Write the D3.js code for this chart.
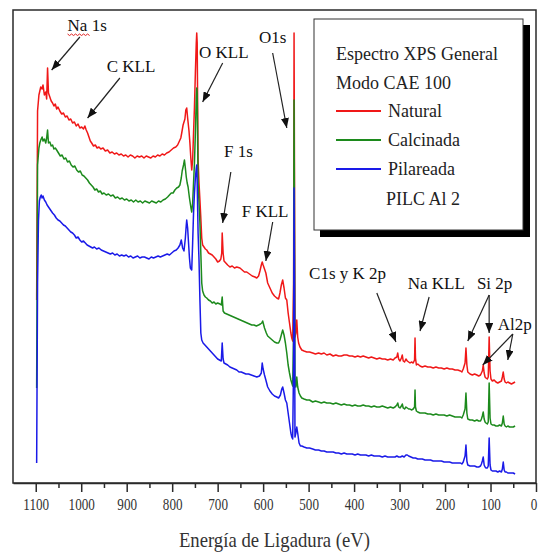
<!DOCTYPE html>
<html>
<head>
<meta charset="utf-8">
<script src="https://cdn.jsdelivr.net/npm/d3@7"></script>
<style>
  html, body { margin: 0; padding: 0; background: #fff; }
  svg { display: block; }
  svg text { font-family: "Liberation Serif", "Times New Roman", serif; }
</style>
</head>
<body>
<svg id="chart" width="538" height="553"></svg>
<script>
// XPS survey spectra: [binding energy (eV), intensity (a.u.)]
const natural = [
  [1098,183],[1096,372],[1093,388],[1091,392],[1089,396],[1086,394],[1084,398],[1081,388],[1078,391],[1076,384],
  [1074,415],[1072,390],[1069,386],[1066,382],[1063,380],[1060,377],[1057,379],[1054,374],[1051,376],[1047,372],
  [1043,369],[1039,370],[1035,366],[1031,367],[1027,363],[1023,364],[1019,360],[1015,361],[1011,357],[1007,359],
  [1003,355],[999,356],[995,354],[992,357],[989,353],[986,350],[983,346],[980,342],[977,340],[973,337],
  [969,338],[965,335],[961,336],[957,334],[952,335],[947,332],[942,333],[937,330],[932,331],[927,329],
  [922,330],[917,328],[912,329],[907,327],[902,328],[897,326],[892,328],[887,327],[882,325],[877,327],
  [872,326],[867,327],[862,325],[857,327],[852,326],[847,325],[842,327],[837,326],[832,328],[827,327],
  [822,329],[817,328],[812,330],[807,331],[802,333],[797,335],[792,336],[788,338],[784,342],[781,345],
  [779,350],[776,358],[772,364],[770,373],[768,375],[766,365],[763,352],[761,340],[759,325],[757,313],
  [755,323],[753,350],[751,376],[749,410],[747,440],[746,450],[745,440],[744,380],[743,323],[741,300],
  [739,283],[737,265],[735,245],[733,238],[730,236],[727,234],[724,233],[720,230],[716,229],[712,228],
  [708,226],[704,224],[700,221],[696,222],[693,224],[691,230],[690,250],[688,230],[686,222],[682,220],
  [678,218],[673,216],[668,217],[663,215],[658,216],[651,215],[646,213],[641,211],[636,211],[630,209],
  [624,207],[618,206],[614,205],[610,207],[607,212],[604,218],[602,221],[600,218],[597,214],[594,210],
  [590,200],[585,195],[580,190],[575,187],[570,185],[566,184],[563,190],[560,198],[557,203],[554,195],
  [551,185],[548,183],[545,170],[542,160],[539,150],[537,145],[535,142],[533,200],[532,450],[531,300],
  [530,146],[528,150],[526,163],[524,146],[522,140],[519,136],[515,133],[510,132],[504,131],[498,131],
  [491,130],[485,129],[478,130],[472,129],[466,130],[460,128],[453,129],[446,127],[440,128],[434,127],
  [428,127],[422,128],[416,128],[410,127],[404,127],[398,126],[392,127],[386,126],[380,127],[374,126],
  [368,125],[362,126],[356,125],[350,124],[344,125],[338,124],[332,124],[326,123],[320,124],[314,123],
  [310,125],[306,126],[304,130],[302,124],[299,122],[296,125],[294,128],[292,122],[289,121],[286,124],
  [283,122],[280,121],[277,120],[274,121],[270,120],[267,123],[266,145],[265,125],[263,118],[260,119],
  [255,117],[250,116],[244,117],[238,116],[232,116],[226,115],[220,116],[214,115],[208,115],[202,114],
  [196,115],[190,114],[184,114],[178,113],[172,113],[166,112],[163,111],[160,114],[156,120],[154,135],
  [152,118],[150,111],[145,109],[140,108],[135,109],[130,108],[126,107],[122,108],[120,110],[118,112],
  [116,118],[114,110],[112,106],[110,105],[107,104],[105,106],[103,146],[101,112],[99,104],[96,102],
  [92,103],[88,101],[84,100],[80,101],[76,102],[74,106],[72,111],[70,104],[68,101],[65,100],
  [62,101],[58,100],[54,99],[50,100],[46,101]
];

const calcinada = [
  [1098,95],[1096,318],[1093,335],[1091,340],[1089,343],[1086,346],[1084,342],[1081,344],[1078,340],[1076,345],
  [1074,353],[1072,340],[1069,341],[1066,337],[1063,338],[1060,334],[1057,335],[1054,333],[1050,330],[1046,327],
  [1042,328],[1038,324],[1034,325],[1030,321],[1026,322],[1022,318],[1018,316],[1014,317],[1010,313],[1006,311],
  [1002,312],[998,308],[994,307],[990,305],[986,303],[982,300],[978,298],[974,296],[970,293],[966,294],
  [962,291],[958,292],[954,289],[950,290],[945,288],[940,289],[935,287],[930,288],[925,285],[920,286],
  [915,284],[910,285],[905,283],[900,284],[895,282],[890,283],[885,281],[880,283],[875,281],[870,282],
  [865,280],[860,282],[855,281],[850,280],[845,282],[840,281],[835,280],[830,282],[825,281],[820,283],
  [815,284],[810,286],[806,288],[802,290],[798,290],[794,293],[790,295],[786,296],[783,298],[780,305],
  [778,312],[775,318],[773,323],[771,315],[769,306],[767,300],[765,296],[762,285],[759,276],[757,271],
  [755,280],[753,300],[751,320],[749,350],[747,385],[746,395],[745,390],[744,340],[743,300],[741,280],
  [739,260],[737,230],[735,200],[733,192],[730,188],[727,186],[724,185],[720,183],[716,182],[712,180],
  [708,181],[704,179],[700,180],[695,179],[692,178],[690,186],[688,172],[685,170],[680,169],[675,168],
  [670,167],[665,166],[660,165],[655,164],[650,163],[645,162],[640,161],[635,160],[630,159],[625,158],
  [620,158],[615,157],[610,158],[606,159],[603,160],[601,162],[597,155],[593,150],[590,147],[585,145],
  [580,143],[575,141],[570,140],[566,140],[563,143],[560,148],[557,153],[554,148],[551,140],[548,130],
  [545,118],[542,110],[539,103],[537,100],[535,97],[533,150],[532,383],[531,250],[530,100],[528,96],
  [526,106],[524,96],[521,90],[518,87],[515,85],[510,84],[504,83],[498,83],[491,81],[485,82],
  [478,81],[472,80],[466,81],[460,80],[453,80],[446,79],[440,80],[434,79],[428,78],[422,79],
  [416,78],[410,78],[404,77],[398,78],[392,77],[386,77],[380,78],[374,77],[368,77],[362,76],
  [356,77],[350,76],[344,76],[338,77],[332,76],[326,75],[320,76],[314,75],[310,76],[306,78],
  [304,80],[302,76],[299,75],[296,77],[294,79],[292,75],[289,74],[286,76],[283,75],[280,74],
  [277,74],[274,73],[270,74],[267,76],[266,93],[265,76],[263,72],[260,71],[255,70],[250,70],
  [244,70],[238,69],[232,69],[226,68],[220,69],[214,68],[208,68],[202,68],[196,67],[190,68],
  [184,67],[178,66],[172,66],[166,66],[163,65],[160,68],[156,74],[154,90],[152,70],[150,64],
  [145,63],[140,63],[135,62],[130,63],[126,62],[122,62],[120,64],[118,67],[116,71],[114,64],
  [112,61],[110,60],[107,59],[105,61],[103,100],[101,65],[99,59],[96,58],[92,58],[88,57],
  [84,57],[80,58],[76,57],[74,60],[72,67],[70,59],[68,57],[65,56],[62,57],[58,56],
  [54,56],[50,56],[46,57]
];

const pilareada = [
  [1098,20],[1096,200],[1094,262],[1092,282],[1090,286],[1088,288],[1086,285],[1084,287],[1081,283],[1078,281],
  [1075,278],[1072,276],[1069,274],[1066,272],[1063,270],[1059,268],[1055,265],[1051,263],[1047,262],[1043,260],
  [1039,258],[1035,257],[1031,255],[1027,253],[1023,251],[1019,250],[1015,248],[1011,245],[1007,246],[1003,243],
  [999,241],[995,242],[991,240],[987,238],[983,237],[979,236],[975,235],[971,236],[966,234],[961,235],
  [956,233],[951,232],[946,231],[941,230],[936,229],[931,230],[926,228],[921,229],[916,227],[911,228],
  [906,227],[901,228],[896,226],[891,227],[886,225],[881,226],[876,227],[871,225],[866,226],[861,226],
  [856,225],[851,224],[846,226],[841,225],[836,226],[831,227],[826,226],[821,227],[816,228],[811,229],
  [806,228],[801,230],[796,232],[791,233],[787,235],[783,238],[780,243],[777,235],[774,232],[771,245],
  [769,258],[768,263],[766,255],[764,240],[762,225],[760,215],[757,213],[755,240],[753,270],[751,290],
  [749,305],[747,315],[746,318],[745,300],[743,250],[741,223],[739,183],[737,150],[735,143],[732,140],
  [728,138],[724,136],[720,134],[716,132],[712,130],[708,128],[704,126],[700,124],[696,123],[692,122],
  [690,140],[688,124],[686,120],[682,119],[678,118],[673,116],[668,115],[663,114],[658,113],[653,111],
  [648,111],[643,110],[638,109],[632,109],[626,108],[620,107],[614,106],[608,107],[604,110],[602,120],
  [600,114],[597,108],[594,103],[590,96],[585,92],[580,89],[575,87],[570,86],[566,85],[562,88],
  [559,94],[557,96],[554,90],[551,83],[548,80],[545,70],[542,60],[539,50],[537,46],[535,44],
  [533,120],[532,295],[531,200],[530,46],[528,50],[526,56],[524,50],[521,40],[518,37],[515,37],
  [510,36],[504,35],[498,35],[491,34],[485,33],[478,33],[472,32],[466,32],[460,31],[453,31],
  [446,31],[440,30],[434,30],[428,29],[422,30],[416,29],[410,29],[404,29],[398,28],[392,29],
  [386,28],[380,28],[374,28],[368,27],[362,28],[356,27],[350,27],[344,27],[338,26],[332,27],
  [326,26],[320,26],[314,26],[310,26],[306,27],[302,26],[298,26],[294,27],[290,26],[286,28],
  [283,28],[280,27],[275,26],[270,25],[265,25],[260,24],[255,24],[250,24],[244,23],[238,23],
  [232,23],[226,22],[220,22],[214,22],[208,22],[202,21],[196,21],[190,21],[184,20],[178,20],
  [172,20],[166,20],[163,19],[160,21],[156,27],[154,38],[152,22],[150,18],[145,17],[140,17],
  [135,17],[130,16],[126,16],[122,17],[120,19],[118,22],[116,26],[114,18],[112,16],[110,15],
  [107,15],[105,17],[103,45],[101,18],[99,13],[96,12],[92,12],[88,12],[84,11],[80,12],
  [76,11],[74,14],[72,21],[70,13],[68,11],[65,11],[62,10],[58,10],[54,10],[50,10],[46,9]
];

const seriesNames  = ["Natural", "Calcinada", "Pilareada"];
const seriesData   = [natural, calcinada, pilareada];
const seriesColors = ["#f01818", "#1c8a1c", "#1a1ae8"];

const majorTicks = [1100, 1000, 900, 800, 700, 600, 500, 400, 300, 200, 100, 0];
const minorTicks = [1050, 950, 850, 750, 650, 550, 450, 350, 250, 150, 50];

const legendTitle = ["Espectro XPS General", "Modo CAE 100"];
const legendNote  = "PILC Al 2";

// Peak labels: text anchor point and arrow tails/tips, in (eV, a.u.)
const peakLabels = [
  { text: "Na 1s",      at: [1030, 452], arrows: [[[1003, 446], [1065, 413]]] },
  { text: "C KLL",      at: [944, 411],  arrows: [[[915, 405],  [986, 365]]] },
  { text: "O KLL",      at: [741, 425],  arrows: [[[689, 420],  [733, 381]]] },
  { text: "O1s",        at: [609, 440],  arrows: [[[579, 430],  [548, 355]]] },
  { text: "F 1s",       at: [686, 326],  arrows: [[[671, 311],  [689, 260]]] },
  { text: "F KLL",      at: [647, 266],  arrows: [[[579, 261],  [594, 222]]] },
  { text: "C1s y K 2p", at: [499, 204],  arrows: [[[350, 190],  [308, 141]]] },
  { text: "Na KLL",     at: [282, 194],  arrows: [[[235, 186],  [255, 152]]] },
  { text: "Si 2p",      at: [130, 194],  arrows: [[[103, 188],  [150, 142]], [[103, 188], [103, 150]]] },
  { text: "Al2p",       at: [84, 153],   arrows: [[[51, 149],   [117, 118]], [[51, 149],  [62, 123]]] }
];

const svg = d3.select("#chart");

const x = d3.scaleLinear().domain([1150, 0]).range([13, 536]);
const y = d3.scaleLinear().domain([0, 473]).range([483, 10]);

// Plot frame
svg.append("rect")
  .attr("x", x(1150)).attr("y", y(473))
  .attr("width", x(0) - x(1150)).attr("height", y(0) - y(473))
  .attr("fill", "none").attr("stroke", "#2a2a2a").attr("stroke-width", 1.5);

// Bottom axis with major and minor ticks
const axisG = svg.append("g").attr("transform", `translate(0,${y(0)})`);
axisG.call(
  d3.axisBottom(x).tickValues(majorTicks).tickSize(9).tickSizeOuter(0).tickPadding(7)
    .tickFormat(d3.format("d"))
);
axisG.attr("font-family", null).attr("font-size", null);
axisG.select(".domain").attr("stroke", "#2a2a2a").attr("stroke-width", 1.5);
axisG.selectAll(".tick line").attr("stroke", "#2a2a2a").attr("stroke-width", 1.5);
axisG.selectAll(".tick text")
  .style("font-size", "16px")
  .attr("fill", "#333")
  .attr("dx", d => d === 0 ? -3 : 0)
  .attr("transform", "scale(0.82,1)");

const minorG = svg.append("g").attr("transform", `translate(0,${y(0)})`);
minorG.call(d3.axisBottom(x).tickValues(minorTicks).tickSize(5).tickSizeOuter(0).tickFormat(""));
minorG.select(".domain").remove();
minorG.selectAll(".tick line").attr("stroke", "#2a2a2a").attr("stroke-width", 1.5);

// Axis title
svg.append("text")
  .attr("transform", `translate(${(x(1150) + x(0)) / 2},547) scale(0.85,1)`)
  .attr("text-anchor", "middle")
  .style("font-size", "22px")
  .attr("fill", "#333")
  .text("Energía de Ligadura (eV)");

// Spectra
const line = d3.line().x(d => x(d[0])).y(d => y(d[1]));
seriesData.forEach((data, i) => {
  svg.append("path")
    .datum(data)
    .attr("d", line)
    .attr("fill", "none")
    .attr("stroke", seriesColors[i])
    .attr("stroke-width", 1.5)
    .attr("stroke-linejoin", "round");
});

// Arrow marker
svg.append("defs").append("marker")
  .attr("id", "arrow")
  .attr("viewBox", "0 0 10 8")
  .attr("refX", 10).attr("refY", 4)
  .attr("markerWidth", 10).attr("markerHeight", 8)
  .attr("markerUnits", "userSpaceOnUse")
  .attr("orient", "auto")
  .append("path").attr("d", "M0,0 L10,4 L0,8 Z").attr("fill", "#111");

// Peak labels and arrows
peakLabels.forEach(p => {
  svg.append("text")
    .attr("x", x(p.at[0])).attr("y", y(p.at[1]))
    .style("font-size", "17px")
    .attr("fill", "#111")
    .text(p.text);
  p.arrows.forEach(a => {
    svg.append("line")
      .attr("x1", x(a[0][0])).attr("y1", y(a[0][1]))
      .attr("x2", x(a[1][0])).attr("y2", y(a[1][1]))
      .attr("stroke", "#222").attr("stroke-width", 1.2)
      .attr("marker-end", "url(#arrow)");
  });
});

// Spell-check squiggle under "Na"
{
  const x0 = x(1030), yy = y(452) + 3;
  let d = `M${x0},${yy}`;
  for (let k = 1; k <= 11; k++) d += ` L${x0 + k * 2},${yy + (k % 2 ? 1.5 : 0)}`;
  svg.append("path").attr("d", d).attr("fill", "none").attr("stroke", "#e02020").attr("stroke-width", 1);
}

// Legend box with drop shadow
const lg = svg.append("g");
lg.append("rect").attr("x", 320).attr("y", 25).attr("width", 210).attr("height", 212).attr("fill", "#000");
lg.append("rect").attr("x", 314).attr("y", 19).attr("width", 209).attr("height", 211)
  .attr("fill", "#fff").attr("stroke", "#333").attr("stroke-width", 1);

legendTitle.forEach((t, i) => {
  lg.append("text").attr("x", 336).attr("y", 60 + i * 28.5)
    .style("font-size", "18px").attr("fill", "#222").text(t);
});
seriesNames.forEach((name, i) => {
  const yy = 117 + i * 29;
  lg.append("line").attr("x1", 336).attr("x2", 381).attr("y1", yy - 6).attr("y2", yy - 6)
    .attr("stroke", seriesColors[i]).attr("stroke-width", 2);
  lg.append("text").attr("x", 388).attr("y", yy)
    .style("font-size", "18px").attr("fill", "#222").text(name);
});
lg.append("text").attr("x", 386).attr("y", 205)
  .style("font-size", "18px").attr("fill", "#222").text(legendNote);
</script>
</body>
</html>
